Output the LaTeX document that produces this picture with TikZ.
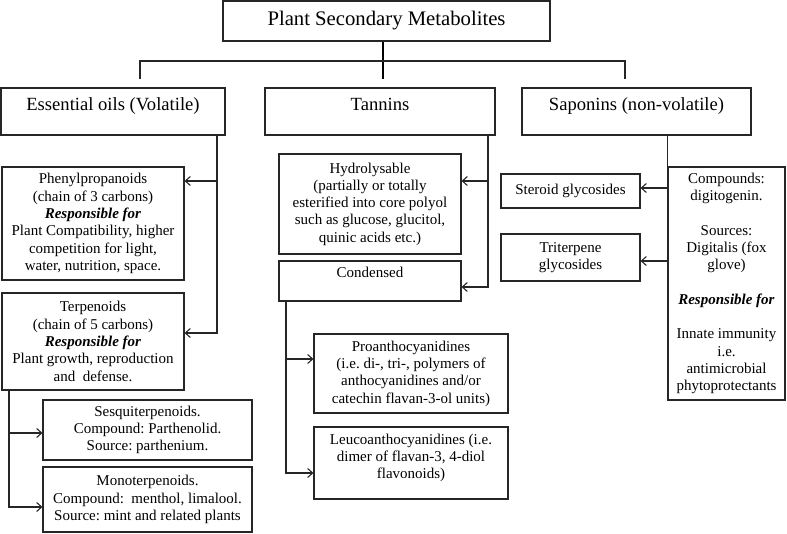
\documentclass[tikz,border=0pt]{standalone}
\usepackage{fontspec}
\setmainfont{Liberation Serif}
\usetikzlibrary{arrows.meta}
\newcommand{\bodyf}{\fontsize{15}{17.3}\selectfont}
\newcommand{\titlef}{\fontsize{20.7}{24}\selectfont}
\newcommand{\rowf}{\fontsize{18.6}{22}\selectfont}
\newcommand{\topbox}[4]{\parbox[c][#2][t]{#1}{\centering\rule{0pt}{#3}#4}}
\newcommand{\resp}{\textbf{\textit{Responsible for}}}
\frenchspacing
\begin{document}
\begin{tikzpicture}[x=1pt,y=-1pt,
  box/.style={draw=black!85, line width=1.1pt, inner sep=0pt, align=center, font=\bodyf},
  conn/.style={draw=black!85, line width=1.1pt},
  arr/.style={conn, -{Straight Barb[length=5pt,width=9pt]}},
  thickconn/.style={draw=black, line width=1.8pt}]
\useasboundingbox (0,0) rectangle (787,534);
% top
\node[box, font=\titlef, minimum width=327pt, minimum height=40pt] (title) at (386.5,21) {Plant Secondary Metabolites};
% second row
\node[box, font=\rowf] (eo) at (113,111.5) {\topbox{224pt}{47pt}{22.5pt}{Essential oils (Volatile)}};
\node[box, font=\rowf] (tn) at (380,111.5) {\topbox{230pt}{47pt}{22.5pt}{Tannins}};
\node[box, font=\rowf] (sp) at (636.5,111.5) {\topbox{229pt}{47pt}{22.5pt}{Saponins (non-volatile)}};
% essential oils branch
\node[box, minimum width=182pt, minimum height=113pt] (phen) at (93,223.5) {Phenylpropanoids\\(chain of 3 carbons)\\\resp\\Plant Compatibility, higher\\competition for light,\\water, nutrition, space.};
\node[box, minimum width=182pt, minimum height=97pt] (terp) at (93,341.5) {Terpenoids\\(chain of 5 carbons)\\\resp\\Plant growth, reproduction\\and\ \ defense.};
\node[box, minimum width=209pt, minimum height=60pt] (sesq) at (147.5,430) {Sesquiterpenoids.\\Compound: Parthenolid.\\Source: parthenium.};
\node[box, minimum width=209pt, minimum height=65pt] (mono) at (147.5,499.5) {Monoterpenoids.\\Compound:\ \ menthol, limalool.\\Source: mint and related plants};
% tannins branch
\node[box, minimum width=182pt, minimum height=100pt] (hyd) at (370,204) {Hydrolysable\\(partially or totally\\esterified into core polyol\\such as glucose, glucitol,\\quinic acids etc.)};
\node[box] (cond) at (370,281) {\topbox{182pt}{40pt}{17pt}{Condensed}};
\node[box, minimum width=194pt, minimum height=79pt] (pro) at (411,373.5) {Proanthocyanidines\\(i.e.\ di-, tri-, polymers of\\anthocyanidines and/or\\catechin flavan-3-ol units)};
\node[box] (leu) at (411,463) {\topbox{194pt}{72pt}{17.3pt}{Leucoanthocyanidines (i.e.\\dimer of flavan-3, 4-diol\\flavonoids)}};
% saponins branch
\node[box, minimum width=139pt, minimum height=34pt] (ster) at (570.5,191) {Steroid glycosides};
\node[box, minimum width=139pt, minimum height=47pt] (trit) at (570.5,257.5) {Triterpene\\glycosides};
\node[box, minimum width=117pt, minimum height=233pt] (tall) at (726.5,283.5) {Compounds:\\digitogenin.\\[17.3pt]Sources:\\Digitalis (fox\\glove)\\[17.3pt]\resp\\[17.3pt]Innate immunity\\i.e.\\antimicrobial\\phytoprotectants};
% top connectors
\coordinate (eL) at (140,61);
\coordinate (eM) at (383,61);
\coordinate (eR) at (625,61);
\draw[thickconn, shorten >=8pt] (title.south -| eM) -- (tn.north -| eM);
\draw[conn, shorten <=8pt, shorten >=8pt] (eo.north -| eL) -- (eL) -- (eR) -- (sp.north -| eR);
% levels
\coordinate (ex) at (217,0);
\coordinate (tx) at (9,0);
\coordinate (hx) at (488,0);
\coordinate (cx) at (286,0);
\coordinate (y1) at (0,181);
\coordinate (y2) at (0,333);
\coordinate (y3) at (0,433);
\coordinate (y4) at (0,507);
\coordinate (y5) at (0,287);
\coordinate (y6) at (0,359);
\coordinate (y7) at (0,473);
\coordinate (y8) at (0,188);
\coordinate (y9) at (0,261);
% essential oils
\draw[arr] (eo.south -| ex) |- (terp.east |- y2);
\draw[arr] (ex |- y1) -- (phen.east |- y1);
% terpenoids
\draw[arr] (terp.south -| tx) |- (mono.west |- y4);
\draw[arr] (tx |- y3) -- (sesq.west |- y3);
% tannins
\draw[arr] (tn.south -| hx) |- (cond.east |- y5);
\draw[arr] (hx |- y1) -- (hyd.east |- y1);
% condensed
\draw[arr] (cond.south -| cx) |- (leu.west |- y7);
\draw[arr] (cx |- y6) -- (pro.west |- y6);
% saponins
\draw[conn] (sp.south -| tall.north west) -- (tall.north west);
\draw[arr] (tall.west |- y8) -- (ster.east |- y8);
\draw[arr] (tall.west |- y9) -- (trit.east |- y9);
\end{tikzpicture}
\end{document}
